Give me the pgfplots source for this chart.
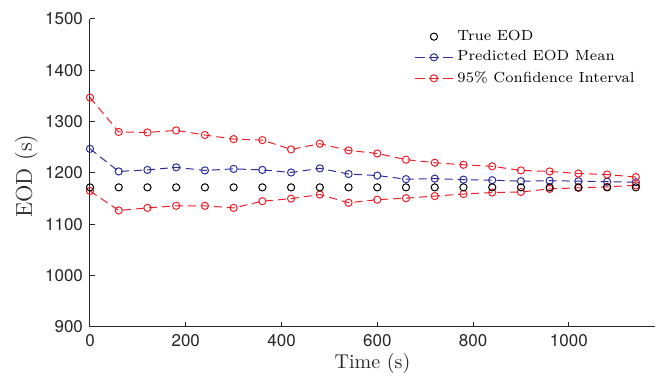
\documentclass[border=0pt]{standalone}
\usepackage{fontspec}
\usepackage{pgfplots}
\pgfplotsset{compat=1.18}
\newfontfamily\helv{TeX Gyre Heros}
\definecolor{axisgray}{RGB}{38,38,38}
\definecolor{cired}{RGB}{238,30,40}
\definecolor{mblue}{RGB}{45,45,160}
\pgfplotsset{
  dashleg/.style={legend image code/.code={\draw[##1, dash pattern=on 5pt off 2pt, mark repeat=2, mark phase=2] plot coordinates {(0pt,0pt) (9.5pt,0pt) (19pt,0pt)};}},
  markleg/.style={legend image code/.code={\draw[##1] plot coordinates {(9.5pt,0pt)};}},
}
\begin{document}
\begin{tikzpicture}
\begin{axis}[
  name=ax,
  scale only axis, width=282.5pt, height=154pt,
  xmin=0, xmax=1180, ymin=900, ymax=1500,
  xtick={0,200,...,1000}, ytick={900,1000,...,1500},
  scaled ticks=false,
  axis x line*=bottom, axis y line*=left,
  axis line style={-, color=axisgray, line width=0.5pt},
  tick align=inside, major tick length=2.5pt,
  tick style={axisgray, line width=0.5pt},
  ticklabel style={font=\helv\fontsize{8.5}{10}\selectfont, text=axisgray},
  /pgf/number format/assume math mode=true,
  /pgf/number format/set thousands separator={},
  xlabel={Time (s)}, ylabel={EOD (s)},
  label style={text=axisgray},
  xlabel style={font=\fontsize{10}{12}\selectfont, at={(axis description cs:0.5,-0.117)}, anchor=center},
  ylabel style={font=\fontsize{11.4}{13}\selectfont, at={(axis description cs:-0.113,0.49)}, anchor=center},
  clip=false,
  mark options={solid, line width=0.5pt},
  every axis plot/.append style={line width=0.5pt},
  legend style={at={(rel axis cs:0.57,0.985)}, anchor=north west, draw=none, fill=none,
    font=\fontsize{7.3}{8.5}\selectfont, row sep=-0.3pt, inner sep=1pt,
    cells={anchor=west}},
  legend cell align=left,
]
\addlegendimage{black, only marks, mark=o, mark size=1.8pt, markleg}
\addlegendentry{True EOD}

\addplot[mblue, dash pattern=on 4pt off 2.5pt, mark=o, mark size=1.8pt, dashleg]
coordinates {
(0,1247) (60,1203) (120,1206) (180,1211) (240,1205) (300,1208) (360,1206)
(420,1201) (480,1209) (540,1198) (600,1195) (660,1188) (720,1189) (780,1187)
(840,1186) (900,1184) (960,1185) (1020,1184) (1080,1183) (1140,1182)
};
\addlegendentry{Predicted EOD Mean}

\addplot[cired, dash pattern=on 4pt off 2.5pt, mark=o, mark size=1.8pt, dashleg]
coordinates {
(0,1347) (60,1280) (120,1279) (180,1283) (240,1274) (300,1266) (360,1264)
(420,1246) (480,1257) (540,1244) (600,1238) (660,1226) (720,1220) (780,1216)
(840,1213) (900,1205) (960,1203) (1020,1199) (1080,1197) (1140,1192)
};
\addlegendentry{95\% Confidence Interval}

\addplot[cired, dash pattern=on 4pt off 2.5pt, mark=o, mark size=1.8pt, forget plot]
coordinates {
(0,1165) (60,1127) (120,1132) (180,1136) (240,1136) (300,1132) (360,1145)
(420,1150) (480,1158) (540,1142) (600,1148) (660,1151) (720,1155) (780,1159)
(840,1162) (900,1163) (960,1169) (1020,1171) (1080,1173) (1140,1176)
};

\addplot[black, only marks, mark=o, mark size=1.8pt, forget plot]
coordinates {
(0,1172) (60,1172) (120,1172) (180,1172) (240,1172) (300,1172) (360,1172)
(420,1172) (480,1172) (540,1172) (600,1172) (660,1172) (720,1172) (780,1172)
(840,1172) (900,1172) (960,1172) (1020,1172) (1080,1172) (1140,1172)
};
\end{axis}
\path ([xshift=-45pt,yshift=-24.5pt]ax.south west) rectangle ([xshift=4.5pt,yshift=9.5pt]ax.north east);
\end{tikzpicture}
\end{document}
